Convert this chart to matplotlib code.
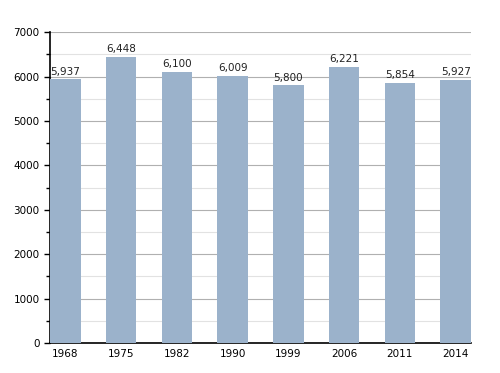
import matplotlib.pyplot as plt
from matplotlib.ticker import MultipleLocator

years = ['1968', '1975', '1982', '1990', '1999', '2006', '2011', '2014']
population = [5937, 6448, 6100, 6009, 5800, 6221, 5854, 5927]

fig = plt.figure(figsize=(5, 3.73), dpi=100)
ax = fig.add_axes([0.1, 0.08, 0.842, 0.834])

x = range(len(years))
bars = ax.bar(x, population, width=0.55, color='#9bb2cb', zorder=3)

for xi, v in zip(x, population):
    ax.text(xi, v + 60, f'{v:,}', ha='center', va='bottom', fontsize=7.5, color='#222222')

ax.set_xlim(-0.275, len(years) - 1 + 0.275)
ax.set_ylim(0, 7000)
ax.set_xticks(list(x))
ax.set_xticklabels(years, fontsize=7.5)
ax.yaxis.set_major_locator(MultipleLocator(1000))
ax.yaxis.set_minor_locator(MultipleLocator(500))
ax.tick_params(axis='y', labelsize=7.5, length=4, width=1)
ax.tick_params(axis='y', which='minor', length=3, width=1)
ax.tick_params(axis='x', length=0, pad=4)

ax.grid(axis='y', which='major', color='#b0b0b0', linewidth=0.8, zorder=0)
ax.grid(axis='y', which='minor', color='#e2e2e2', linewidth=0.8, zorder=0)

for s in ['top', 'right']:
    ax.spines[s].set_visible(False)
ax.spines['left'].set_linewidth(1.2)
ax.spines['bottom'].set_linewidth(1.2)

fig.savefig('out.png', dpi=100)
